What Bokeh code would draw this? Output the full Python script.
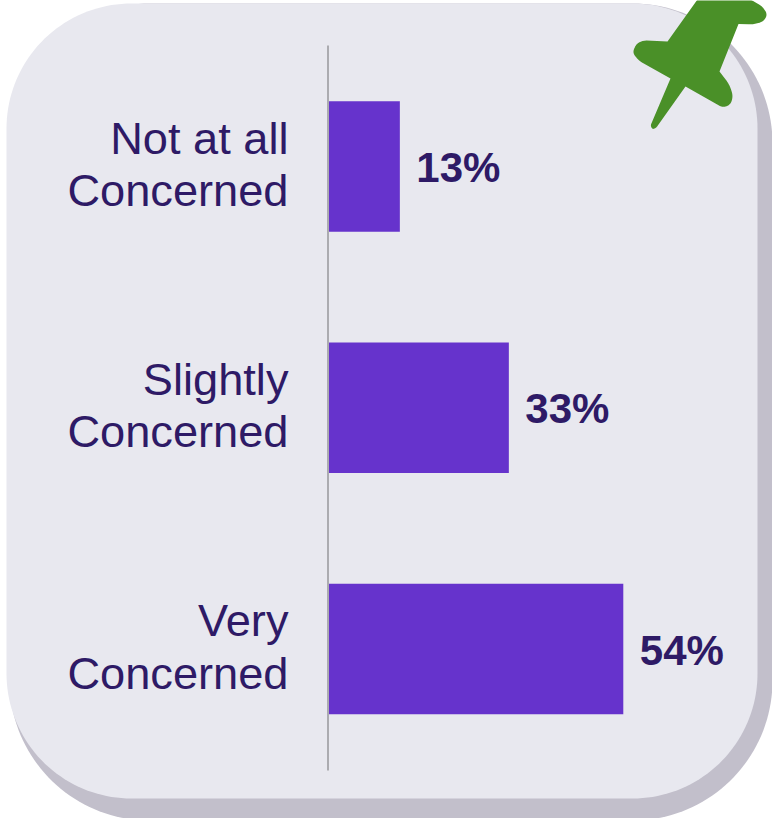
from bokeh.core.properties import value
from bokeh.embed import file_html
from bokeh.models import ColumnDataSource, Range1d
from bokeh.plotting import figure
from bokeh.resources import INLINE
import numpy as np

categories = ["Not at all\nConcerned", "Slightly\nConcerned", "Very\nConcerned"]
shares = [13, 33, 54]
share_labels = ["13%", "33%", "54%"]

W, H = 772, 818
ZERO_PX, PX_PER_PCT = 328.5, 5.45
FIRST_ROW_PX, ROW_PX = 166.0, 241.25


def rounded_rect(left, top, right, bottom, r):
    """Outline of a rounded rectangle in pixel coordinates."""
    xs, ys = [], []
    corners = [(right - r, top + r, -90), (right - r, bottom - r, 0),
               (left + r, bottom - r, 90), (left + r, top + r, 180)]
    for cx, cy, start in corners:
        t = np.radians(np.linspace(start, start + 90, 40))
        xs.extend(cx + r * np.cos(t))
        ys.extend(cy + r * np.sin(t))
    return xs, ys


def rounded_polygon(points, steps=10):
    """Polygon whose (x, y, radius) vertices are softened with quadratic curves."""
    xs, ys = [], []
    n = len(points)
    for i, (x, y, r) in enumerate(points):
        p = np.array([x, y], float)
        if r == 0:
            xs.append(x)
            ys.append(y)
            continue
        a = np.array(points[i - 1][:2], float)
        b = np.array(points[(i + 1) % n][:2], float)
        s = p + (a - p) / np.linalg.norm(a - p) * r
        e = p + (b - p) / np.linalg.norm(b - p) * r
        for t in np.linspace(0, 1, steps):
            q = (1 - t) ** 2 * s + 2 * t * (1 - t) * p + t ** 2 * e
            xs.append(q[0])
            ys.append(q[1])
    return xs, ys


# Push-pin outline, in pixels from the top-left corner of the page
pin_outline = [
    (697, -1, 0), (750, -1, 0), (762, 6, 4), (767, 14, 4), (763, 21, 4),
    (753, 24, 5), (738, 23.5, 0), (719, 71, 0), (729, 84, 6), (733, 97, 6),
    (729, 105, 4), (722, 107, 4), (685, 86, 0), (656, 127, 2), (652, 129, 2),
    (650, 125, 2), (670, 78, 0), (638, 60, 5), (632, 52, 4), (636, 43, 4),
    (643, 40, 3), (667, 41, 0),
]

p = figure(
    width=W, height=H, output_backend="svg", toolbar_location=None,
    x_range=Range1d(-ZERO_PX / PX_PER_PCT, (W - ZERO_PX) / PX_PER_PCT),
    y_range=Range1d((H - FIRST_ROW_PX) / ROW_PX, -FIRST_ROW_PX / ROW_PX),
    min_border=0, outline_line_color=None, background_fill_color="white",
    border_fill_color="white",
)
p.axis.visible = False
p.grid.visible = False
p.extra_x_ranges["px"] = Range1d(0, W)
p.extra_y_ranges["px"] = Range1d(H, 0)

# Card and its shadow
sx, sy = rounded_rect(9, 3, 772, 820, 140)
p.patch(sx, sy, fill_color="#C2BFCB", line_color=None, x_range_name="px", y_range_name="px")
cx, cy = rounded_rect(6, 3, 757, 798, 125)
p.patch(cx, cy, fill_color="#E8E8EF", line_color=None, x_range_name="px", y_range_name="px")

# Push-pin in the corner
px, py = rounded_polygon(pin_outline)
p.patch(px, py, fill_color="#4A9028", line_color=None, x_range_name="px", y_range_name="px")

# Vertical baseline of the bars
p.segment([327.5], [45], [327.5], [770], line_color="#ABABB0", line_width=2,
          x_range_name="px", y_range_name="px")

rows = list(range(len(categories)))
source = ColumnDataSource(dict(row=rows, share=shares, label=share_labels, category=categories))

p.hbar(y="row", left=0, right="share", height=0.54, source=source,
       fill_color="#6633CC", line_color=None)

p.text(x="share", y="row", text="label", source=source, x_offset=16.5, y_offset=1,
       text_font=value("Liberation Sans"), text_font_style="bold", text_font_size="42px",
       text_color="#2E1A66", text_align="left", text_baseline="middle")

p.text(x=0, y="row", text="category", source=source, x_offset=-40.5, y_offset=-2,
       text_font=value("Liberation Sans"), text_font_size="45.2px", text_color="#2E1A66",
       text_align="right", text_baseline="middle", text_line_height=1.02)

with open("out.html", "w") as f:
    f.write(file_html(p, INLINE))
